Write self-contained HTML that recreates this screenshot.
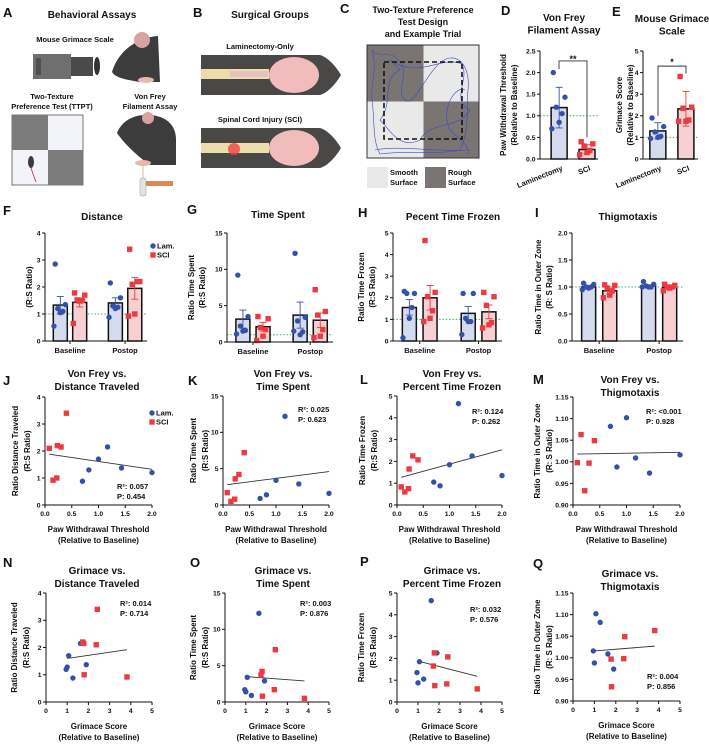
<!DOCTYPE html>
<html><head><meta charset="utf-8"><title>Figure</title>
<style>
html,body{margin:0;padding:0;background:#fff;}
svg{display:block;font-family:"Liberation Sans",Arial,sans-serif;}
text{fill:#111;}
</style></head>
<body>
<svg id="fig" xmlns="http://www.w3.org/2000/svg" width="709" height="747" viewBox="0 0 709 747">
<rect x="0" y="0" width="709" height="747" fill="#fff"/>

<g>
<text x="3" y="17" font-size="13" font-weight="bold">A</text>
<text x="92" y="18" font-size="10" font-weight="bold" text-anchor="middle">Behavioral Assays</text>
<text x="75" y="42" font-size="7.5" font-weight="bold" text-anchor="middle">Mouse Grimace Scale</text>
<rect x="33" y="54" width="38" height="25" fill="#6f6f6f"/>
<rect x="36" y="58" width="5" height="17" fill="#505050"/>
<rect x="71" y="57" width="22" height="19" fill="#4a4a4a"/>
<ellipse cx="97" cy="66" rx="3" ry="9" fill="#333"/>
<path d="M112,72 C118,52 135,38 158,36 L160,82 L140,82 C128,80 115,78 112,72 Z" fill="#3c3c3c"/>
<ellipse cx="142" cy="40" rx="8" ry="8" fill="#d9a2a2"/>
<ellipse cx="146" cy="80" rx="8" ry="3" fill="#e8b7b0"/>
<text x="52" y="99" font-size="7.5" font-weight="bold" text-anchor="middle">Two-Texture</text>
<text x="52" y="109" font-size="7.5" font-weight="bold" text-anchor="middle">Preference Test (TTPT)</text>
<text x="150" y="99" font-size="7.5" font-weight="bold" text-anchor="middle">Von Frey</text>
<text x="150" y="109" font-size="7.5" font-weight="bold" text-anchor="middle">Filament Assay</text>
<rect x="12" y="115" width="71" height="70" fill="#f3f4f9" stroke="#555" stroke-width="0.8"/>
<rect x="12" y="115" width="36" height="35" fill="#7b7b7b"/>
<rect x="48" y="150" width="35" height="35" fill="#7b7b7b"/>
<ellipse cx="31" cy="162" rx="3" ry="6" fill="#3c3c3c"/>
<path d="M31,168 C33,174 34,177 36,182" stroke="#a33" stroke-width="0.8" fill="none"/>
<path d="M117,133 C122,120 135,114 150,115 C165,116 176,124 176,140 L176,165 L150,165 C140,158 125,145 117,133 Z" fill="#3c3c3c"/>
<ellipse cx="148" cy="118" rx="6" ry="6" fill="#d9a2a2"/>
<ellipse cx="143" cy="163" rx="8" ry="3" fill="#e8b7b0"/>
<line x1="143" y1="165" x2="143" y2="180" stroke="#c8a060" stroke-width="0.7"/>
<rect x="143" y="181" width="30" height="5" fill="#d98a52"/>
<rect x="140" y="178" width="6" height="18" rx="2" fill="#e4e4e4" stroke="#999" stroke-width="0.5"/>
</g>

<g>
<text x="193" y="17" font-size="13" font-weight="bold">B</text>
<text x="270" y="18" font-size="10" font-weight="bold" text-anchor="middle">Surgical Groups</text>
<text x="260" y="49" font-size="7.5" font-weight="bold" text-anchor="middle">Laminectomy-Only</text>
<path d="M201,55 L320,55 C330,58 338,70 341,75 C338,80 330,92 320,95 L201,95 Z" fill="#4a4846"/>
<rect x="201" y="69" width="68" height="10" fill="#eddcac"/>
<rect x="230" y="71" width="38" height="6" fill="#e8c0bd"/>
<ellipse cx="294" cy="75" rx="25" ry="18" fill="#f0bcbc"/>
<path d="M201,128 L320,128 C330,131 338,143 341,148 C338,153 330,165 320,168 L201,168 Z" fill="#4a4846"/>
<text x="260" y="122" font-size="7.5" font-weight="bold" text-anchor="middle">Spinal Cord Injury (SCI)</text>
<rect x="201" y="143" width="68" height="10" fill="#eddcac"/>
<circle cx="234" cy="149" r="6" fill="#ee4444" opacity="0.8"/>
<ellipse cx="294" cy="148" rx="25" ry="18" fill="#f0bcbc"/>
</g>

<g>
<text x="340" y="13" font-size="13" font-weight="bold">C</text>
<text x="423" y="13" font-size="9" font-weight="bold" text-anchor="middle">Two-Texture Preference</text>
<text x="423" y="25" font-size="9" font-weight="bold" text-anchor="middle">Test Design</text>
<text x="423" y="37" font-size="9" font-weight="bold" text-anchor="middle">and Example Trial</text>
<rect x="367" y="45" width="112" height="113" fill="#e9e9e9" stroke="#333" stroke-width="1"/>
<rect x="367.5" y="45.5" width="56" height="56" fill="#7a7573"/>
<rect x="423.5" y="101.5" width="55" height="56" fill="#7a7573"/>
<path d="M372,50 C380,60 390,48 400,62 C410,75 395,90 405,100 C415,110 430,60 450,58 C462,57 470,70 468,90 C466,110 470,130 460,150 C440,155 410,150 380,154 C372,140 375,120 372,100 C370,85 378,70 372,50 Z M390,60 C420,80 440,55 462,64 C470,80 450,100 470,110 C460,130 430,120 420,140 C400,150 390,130 380,120 C395,100 380,80 400,70 Z M375,150 C400,145 430,152 470,150 M465,90 C455,85 440,110 450,130 C460,140 470,145 468,155" fill="none" stroke="#3b4bc2" stroke-width="0.6"/>
<rect x="384" y="62" width="78" height="77" fill="none" stroke="#111" stroke-width="1.6" stroke-dasharray="5,3"/>
<rect x="367" y="167" width="21" height="21" fill="#e9e9e9"/>
<text x="390" y="175" font-size="7.5" font-weight="bold">Smooth</text>
<text x="390" y="185" font-size="7.5" font-weight="bold">Surface</text>
<rect x="425" y="167" width="21" height="21" fill="#7a7573"/>
<text x="448" y="175" font-size="7.5" font-weight="bold">Rough</text>
<text x="448" y="185" font-size="7.5" font-weight="bold">Surface</text>
</g>
<g id="charts"></g>
</svg>
<script>
const dCategories=['Laminectomy','SCI'];
const dMeans=[1.19,0.22];
const dErrHi=[1.66,0.33];
const dErrLo=[0.72,0.12];
const dPoints=[[2.0,1.43,1.2,1.05,0.85,0.7],[0.4,0.35,0.3,0.2,0.15,0.1]];
const dTicks=[0,0.5,1,1.5,2,2.5];
const dTickLabels=['0.0','0.5','1.0','1.5','2.0','2.5'];
const eCategories=['Laminectomy','SCI'];
const eMeans=[1.3,2.32];
const eErrHi=[1.68,3.13];
const eErrLo=[0.93,1.52];
const ePoints=[[1.9,1.5,1.25,1.05,1.0,0.95],[3.82,2.4,2.35,1.8,1.75,1.75]];
const eTicks=[0,1,2,3,4,5];
const eTickLabels=['0','1','2','3','4','5'];
const groupCategories=['Baseline','Postop'];
const fMeans=[1.33,1.43,1.41,1.95];
const fErrHi=[1.65,1.6,1.6,2.35];
const fErrLo=[1.0,1.26,1.22,1.55];
const fPoints=[[2.85,1.35,1.2,1.1,1.05,0.55],[1.78,1.7,1.52,1.5,1.48,0.65],[2.15,1.6,1.3,1.25,1.2,0.88],[3.4,2.2,2.1,2.2,1.0,0.92]];
const fTicks=[0,1,2,3,4];
const fTickLabels=['0','1','2','3','4'];
const gMeans=[3.15,2.1,3.7,3.0];
const gErrHi=[4.4,2.7,5.5,4.0];
const gErrLo=[1.9,1.5,1.9,2.0];
const gPoints=[[9.2,3.5,2.2,1.6,1.5,1.1],[3.5,3.2,2.0,1.7,0.8,0.2],[12.2,3.4,2.9,1.4,1.0,1.5],[7.2,4.2,3.7,1.7,0.8,0.6]];
const gTicks=[0,5,10,15];
const gTickLabels=['0','5','10','15'];
const hMeans=[1.55,2.0,1.28,1.35];
const hErrHi=[1.92,2.57,1.6,1.67];
const hErrLo=[1.2,1.43,0.95,1.03];
const hPoints=[[2.3,2.2,2.2,1.55,1.05,0.15],[4.65,2.25,2.05,1.4,1.05,0.9],[2.2,2.2,1.05,0.9,0.9,0.3],[2.25,2.05,1.65,0.85,0.75,0.6]];
const hTicks=[0,1,2,3,4,5];
const hTickLabels=['0','1','2','3','4','5'];
const iMeans=[1.0,0.93,1.02,0.99];
const iErrHi=[1.03,1.0,1.04,1.02];
const iErrLo=[0.97,0.87,1.0,0.96];
const iPoints=[[1.07,1.05,1.0,1.0,0.98,0.95],[1.04,1.03,0.98,0.93,0.85,0.8],[1.1,1.05,1.02,1.0,1.0,1.0],[1.05,1.03,1.0,1.0,0.98,0.93]];
const iTicks=[0,0.5,1,1.5,2];
const iTickLabels=['0.0','0.5','1.0','1.5','2.0'];
const vfTicks=[0,0.5,1,1.5,2];
const vfTickLabels=['0.0','0.5','1.0','1.5','2.0'];
const vfLamX=[0.7,0.82,1.0,1.17,1.43,2.0];
const vfSciX=[0.08,0.15,0.22,0.23,0.3,0.4];
const jLamY=[0.88,1.3,1.7,2.15,1.37,1.2];
const jSciY=[2.1,0.92,1.0,2.2,2.15,3.4];
const jFitX=[0.08,2.0]; const jFitY=[1.88,1.32];
const kLamY=[0.9,1.4,3.4,12.2,2.9,1.6];
const kSciY=[1.7,0.5,0.8,3.6,4.2,7.2];
const kFitX=[0.08,2.0]; const kFitY=[2.8,4.6];
const lLamY=[1.05,0.88,1.85,4.65,2.25,1.35];
const lSciY=[0.83,0.6,0.75,1.65,2.25,2.07];
const lFitX=[0.08,2.0]; const lFitY=[1.27,2.53];
const mLamY=[1.082,0.988,1.102,1.009,0.974,1.016];
const mSciX=[0.08,0.15,0.22,0.3,0.4];
const mSciY=[0.998,1.063,0.933,0.997,1.049];
const mFitX=[0.08,2.0]; const mFitY=[1.018,1.022];
const grTicks=[0,1,2,3,4,5];
const grTickLabels=['0','1','2','3','4','5'];
const grLamX=[0.95,1.0,1.07,1.27,1.63,1.9];
const grSciX=[1.73,1.78,1.8,2.37,2.42,3.82];
const nLamY=[1.2,1.28,1.7,0.88,2.15,1.37];
const nSciY=[2.2,2.15,1.0,2.1,3.4,0.92];
const nFitX=[1.0,3.82]; const nFitY=[1.6,1.92];
const oLamY=[1.7,1.4,3.4,0.9,12.2,2.9];
const oSciY=[3.7,4.2,0.8,1.7,7.2,0.5];
const oFitX=[1.0,3.82]; const oFitY=[3.5,2.9];
const pLamY=[1.35,0.88,1.85,1.05,4.65,2.25];
const pSciY=[1.65,2.25,0.75,0.83,2.07,0.6];
const pFitX=[1.0,3.82]; const pFitY=[1.88,1.18];
const qLamY=[1.016,0.988,1.102,1.082,1.009,0.974];
const qSciX=[1.78,1.8,2.37,2.42,3.82];
const qSciY=[0.997,0.933,0.998,1.049,1.063];
const qFitX=[1.0,3.82]; const qFitY=[1.016,1.027];
const thigTicks=[0.9,0.95,1.0,1.05,1.1,1.15];
const thigTickLabels=['0.90','0.95','1.00','1.05','1.10','1.15'];
const stats={j:['R²: 0.057','P: 0.454'],k:['R²: 0.025','P: 0.623'],l:['R²: 0.124','P: 0.262'],m:['R²: <0.001','P: 0.928'],n:['R²: 0.014','P: 0.714'],o:['R²: 0.003','P: 0.876'],p:['R²: 0.032','P: 0.576'],q:['R²: 0.004','P: 0.856']};

const NS='http://www.w3.org/2000/svg';
const root=document.getElementById('charts');
const BLUE='#3450ad', RED='#ec3a40', LAMF='#d5dbee', SCIF='#f8d0d2', GREEN='#2fb36a';
function mk(tag,attrs,parent){const e=document.createElementNS(NS,tag);for(const k in attrs)e.setAttribute(k,attrs[k]);(parent||root).appendChild(e);return e;}
function txt(parent,x,y,s,size,anchor,rot){const t=mk('text',{x:x,y:y,'font-size':size,'font-weight':'bold','text-anchor':anchor||'middle'},parent);if(rot!==undefined)t.setAttribute('transform','rotate('+rot+' '+x+' '+y+')');t.textContent=s;return t;}
function linear(d0,d1,r0,r1){return v=>r0+(v-d0)/(d1-d0)*(r1-r0);}
function marker(parent,x,y,isLam){
  if(isLam){const c=mk('circle',{cx:x,cy:y,r:2.7,fill:BLUE},parent);}
  else{const r=mk('rect',{x:x-2.7,y:y-2.7,width:5.4,height:5.4,fill:RED},parent);}
}
function yAxis(g,x0,yS,ticks,labels){
  const a=mk('line',{x1:x0,y1:yS(ticks[ticks.length-1]),x2:x0,y2:yS(ticks[0]),stroke:'#111','stroke-width':1},g);
  
  ticks.forEach((t,i)=>{const tk=mk('line',{x1:x0-3,y1:yS(t),x2:x0,y2:yS(t),stroke:'#111','stroke-width':1},g);
    const tl=txt(g,x0-4.5,yS(t)+2.4,labels[i],6.8,'end');});
}
const jit=[-4,4,-2,2,0,-5];
function barChart(key,o){
  const g=mk('g',{});
  const yS=linear(o.ticks[0],o.ticks[o.ticks.length-1],o.yBot,o.yTop);
  const w=o.x1-o.x0;
  const gl=mk('line',{x1:o.x0,y1:yS(1),x2:o.x1,y2:yS(1),stroke:GREEN,'stroke-width':1,'stroke-dasharray':'1.5,1.8'},g);
  
  o.means.forEach((m,i)=>{
    const cx=o.x0+w*o.fr[i], lam=i%2===0;
    const b=mk('rect',{x:cx-o.bw/2,y:yS(m),width:o.bw,height:yS(o.ticks[0])-yS(m),fill:lam?LAMF:SCIF,stroke:'#111','stroke-width':1.5},g);
    
    const col=lam?BLUE:RED;
    const e=mk('path',{d:'M'+cx+','+yS(o.lo[i])+'V'+yS(o.hi[i])+'M'+(cx-3.5)+','+yS(o.hi[i])+'h7M'+(cx-3.5)+','+yS(o.lo[i])+'h7',stroke:col,'stroke-width':0.9,fill:'none'},g);
    
    o.points[i].forEach((p,j)=>marker(g,cx+jit[j]*o.bw/11,yS(p),lam));
  });
  const xa=mk('line',{x1:o.x0,y1:o.yBot,x2:o.x1,y2:o.yBot,stroke:'#111','stroke-width':1},g);
  
  yAxis(g,o.x0,yS,o.ticks,o.labels);
  if(o.cats){o.cats.forEach((c,i)=>{const cx=o.x0+w*(o.fr[2*i]+o.fr[2*i+1])/2;
    const tk=mk('line',{x1:cx,y1:o.yBot,x2:cx,y2:o.yBot+3,stroke:'#111','stroke-width':1},g);
    const t=txt(g,cx,o.yBot+12,c,7.5);});}
  if(o.rotCats){o.rotCats.forEach((c,i)=>{const cx=o.x0+w*o.fr[i];
    const t=txt(g,cx+4,o.yBot+11,c,7.5,'end',-22);});}
  o.title.forEach((s,i)=>{const t=txt(g,o.tx,o.ty+i*12.5,s,10);});
  o.ytitle.forEach((s,i)=>{const yx=o.ytx+i*11;const t=txt(g,yx,(o.yTop+o.yBot)/2,s,8,'middle',-90);});
  const L=txt(g,o.lx,o.ly,o.letter,13,'start');
  return {g,yS,o};
}
function scatter(key,o){
  const g=mk('g',{});
  const xS=linear(o.xt[0],o.xt[o.xt.length-1],o.x0,o.x1);
  const yS=linear(o.yt[0],o.yt[o.yt.length-1],o.yBot,o.yTop);
  const xa=mk('line',{x1:o.x0,y1:o.yBot,x2:o.x1,y2:o.yBot,stroke:'#111','stroke-width':1},g);
  
  o.xt.forEach((t,i)=>{const tk=mk('line',{x1:xS(t),y1:o.yBot,x2:xS(t),y2:o.yBot+3,stroke:'#111','stroke-width':1},g);
    const tl=txt(g,xS(t),o.yBot+11,o.xl[i],6.8);});
  yAxis(g,o.x0,yS,o.yt,o.yl);
  const f=mk('line',{x1:xS(o.fx[0]),y1:yS(o.fy[0]),x2:xS(o.fx[1]),y2:yS(o.fy[1]),stroke:'#333','stroke-width':0.9},g);
  
  o.lx.forEach((x,i)=>marker(g,xS(x),yS(o.ly[i]),true));
  o.sx.forEach((x,i)=>marker(g,xS(x),yS(o.sy[i]),false));
  o.stats.forEach((s,i)=>{const t=txt(g,o.sp[0],o.sp[1]+i*10,s,7.5,'start');});
  o.title.forEach((s,i)=>{const t=txt(g,o.tx,o.ty+i*13,s,10);});
  o.xtitle.forEach((s,i)=>{const t=txt(g,(o.x0+o.x1)/2,o.yBot+27+i*11,s,8);});
  o.ytitle.forEach((s,i)=>{const t=txt(g,o.ytx+i*12,(o.yTop+o.yBot)/2,s,8,'middle',-90);});
  const L=txt(g,o.Lx,o.Ly,o.letter,13,'start');
  return g;
}
function legend(x,y){
  const g=mk('g',{});
  marker(g,x,y,true);const a=txt(g,x+4,y+2.6,'Lam.',7.5,'start');
  marker(g,x,y+9,false);const b=txt(g,x+4,y+11.6,'SCI',7.5,'start');
}
const D=barChart('d',{x0:540,x1:598,yTop:51,yBot:159,fr:[0.33,0.81],bw:16,means:dMeans,hi:dErrHi,lo:dErrLo,points:dPoints,ticks:dTicks,labels:dTickLabels,rotCats:dCategories,title:['Von Frey','Filament Assay'],tx:564,ty:21,ytitle:['Paw Withdrawal Threshold','(Relative to Baseline)'],ytx:506,letter:'D',lx:501,ly:15});
(function(){const yS=D.yS;const b=mk('path',{d:'M559,'+yS(2.08)+'V'+yS(2.27)+'H587V'+yS(0.5),stroke:'#333','stroke-width':0.9,fill:'none'},D.g);const s=txt(D.g,573,yS(2.27)+1,'**',9);})();
const E=barChart('e',{x0:643,x1:698,yTop:51,yBot:159,fr:[0.27,0.78],bw:16,means:eMeans,hi:eErrHi,lo:eErrLo,points:ePoints,ticks:eTicks,labels:eTickLabels,rotCats:eCategories,title:['Mouse Grimace','Scale'],tx:672,ty:22,ytitle:['Grimace Score','(Relative to Baseline)'],ytx:622,letter:'E',lx:612,ly:16});
(function(){const yS=E.yS;const b=mk('path',{d:'M658,'+yS(2.0)+'V'+yS(4.3)+'H686V'+yS(3.95),stroke:'#333','stroke-width':0.9,fill:'none'},E.g);const s=txt(E.g,672,yS(4.3)-1,'*',9);})();
const fr4=[0.15,0.34,0.69,0.88];
barChart('f',{x0:45,x1:147,yTop:233,yBot:341,fr:fr4,bw:14,means:fMeans,hi:fErrHi,lo:fErrLo,points:fPoints,ticks:fTicks,labels:fTickLabels,cats:groupCategories,title:['Distance'],tx:102,ty:220,ytitle:['(R:S Ratio)'],ytx:32,letter:'F',lx:3,ly:215});
legend(153,246);
barChart('g',{x0:227,x1:333,yTop:233,yBot:342,fr:fr4,bw:14,means:gMeans,hi:gErrHi,lo:gErrLo,points:gPoints,ticks:gTicks,labels:gTickLabels,cats:groupCategories,title:['Time Spent'],tx:278,ty:218,ytitle:['Ratio Time Spent','(R:S Ratio)'],ytx:194,letter:'G',lx:187,ly:214});
barChart('h',{x0:393,x1:502,yTop:233,yBot:341,fr:fr4,bw:14,means:hMeans,hi:hErrHi,lo:hErrLo,points:hPoints,ticks:hTicks,labels:hTickLabels,cats:groupCategories,title:['Pecent Time Frozen'],tx:453,ty:220,ytitle:['Ratio Time Frozen','(R:S Ratio)'],ytx:364,letter:'H',lx:358,ly:217});
barChart('i',{x0:572,x1:683,yTop:233,yBot:341,fr:fr4,bw:14,means:iMeans,hi:iErrHi,lo:iErrLo,points:iPoints,ticks:iTicks,labels:iTickLabels,cats:groupCategories,title:['Thigmotaxis'],tx:628,ty:220,ytitle:['Ratio Time in Outer Zone','(R: S Ratio)'],ytx:541,letter:'I',lx:535,ly:217});
const vfX=['Paw Withdrawal Threshold','(Relative to Baseline)'];
scatter('j',{x0:45,x1:152,yTop:397,yBot:505,xt:vfTicks,xl:vfTickLabels,yt:fTicks,yl:fTickLabels,fx:jFitX,fy:jFitY,lx:vfLamX,ly:jLamY,sx:vfSciX,sy:jSciY,stats:stats.j,sp:[117,489],title:['Von Frey vs.','Distance Traveled'],tx:97,ty:377,xtitle:vfX,ytitle:['Ratio Distance Traveled','(R:S Ratio)'],ytx:18,letter:'J',Lx:3,Ly:385});
legend(152,413);
scatter('k',{x0:223,x1:329,yTop:396,yBot:505,xt:vfTicks,xl:vfTickLabels,yt:gTicks,yl:gTickLabels,fx:kFitX,fy:kFitY,lx:vfLamX,ly:kLamY,sx:vfSciX,sy:kSciY,stats:stats.k,sp:[298,412],title:['Von Frey vs.','Time Spent'],tx:283,ty:377,xtitle:vfX,ytitle:['Ratio Time Spent','(R:S Ratio)'],ytx:196,letter:'K',Lx:188,Ly:385});
scatter('l',{x0:397,x1:502,yTop:396,yBot:505,xt:vfTicks,xl:vfTickLabels,yt:hTicks,yl:hTickLabels,fx:lFitX,fy:lFitY,lx:vfLamX,ly:lLamY,sx:vfSciX,sy:lSciY,stats:stats.l,sp:[472,414],title:['Von Frey vs.','Percent Time Frozen'],tx:452,ty:377,xtitle:vfX,ytitle:['Ratio Time Frozen','(R:S Ratio)'],ytx:365,letter:'L',Lx:360,Ly:384});
scatter('m',{x0:573,x1:680,yTop:397,yBot:505,xt:vfTicks,xl:vfTickLabels,yt:thigTicks,yl:thigTickLabels,fx:mFitX,fy:mFitY,lx:vfLamX,ly:mLamY,sx:mSciX,sy:mSciY,stats:stats.m,sp:[646,414],title:['Von Frey vs.','Thigmotaxis'],tx:630,ty:383,xtitle:vfX,ytitle:['Ratio Time in Outer Zone','(R: S Ratio)'],ytx:540,letter:'M',Lx:533,Ly:384});
const grX=['Grimace Score','(Relative to Baseline)'];
scatter('n',{x0:46,x1:152,yTop:593,yBot:702,xt:grTicks,xl:grTickLabels,yt:fTicks,yl:fTickLabels,fx:nFitX,fy:nFitY,lx:grLamX,ly:nLamY,sx:grSciX,sy:nSciY,stats:stats.n,sp:[120,606],title:['Grimace vs.','Distance Traveled'],tx:97,ty:574,xtitle:grX,ytitle:['Ratio Distance Traveled','(R:S Ratio)'],ytx:17,letter:'N',Lx:3,Ly:567});
scatter('o',{x0:225,x1:329,yTop:593,yBot:702,xt:grTicks,xl:grTickLabels,yt:gTicks,yl:gTickLabels,fx:oFitX,fy:oFitY,lx:grLamX,ly:oLamY,sx:grSciX,sy:oSciY,stats:stats.o,sp:[300,606],title:['Grimace vs.','Time Spent'],tx:283,ty:574,xtitle:grX,ytitle:['Ratio Time Spent','(R:S Ratio)'],ytx:196,letter:'O',Lx:190,Ly:567});
scatter('p',{x0:397,x1:502,yTop:593,yBot:702,xt:grTicks,xl:grTickLabels,yt:hTicks,yl:hTickLabels,fx:pFitX,fy:pFitY,lx:grLamX,ly:pLamY,sx:grSciX,sy:pSciY,stats:stats.p,sp:[470,612],title:['Grimace vs.','Percent Time Frozen'],tx:452,ty:574,xtitle:grX,ytitle:['Ratio Time Frozen','(R:S Ratio)'],ytx:364,letter:'P',Lx:360,Ly:566});
scatter('q',{x0:573,x1:680,yTop:593,yBot:701,xt:grTicks,xl:grTickLabels,yt:thigTicks,yl:thigTickLabels,fx:qFitX,fy:qFitY,lx:grLamX,ly:qLamY,sx:qSciX,sy:qSciY,stats:stats.q,sp:[647,679],title:['Grimace vs.','Thigmotaxis'],tx:630,ty:577,xtitle:grX,ytitle:['Ratio Time in Outer Zone','(R: S Ratio)'],ytx:540,letter:'Q',Lx:533,Ly:568});
</script>
</body></html>
